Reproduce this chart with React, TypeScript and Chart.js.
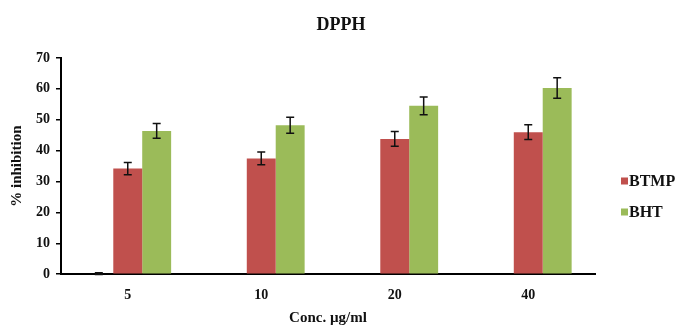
import React, { useEffect, useRef } from "react";
import { Chart, registerables } from "chart.js";

Chart.register(...registerables);

const chartTitle = "DPPH";
const categories = ["5", "10", "20", "40"];
const seriesNames = ["BTMP", "BHT"];
const btmpValues = [34.2, 37.5, 43.8, 46.0];
const btmpErrors = [2.0, 2.1, 2.4, 2.4];
const bhtValues = [46.4, 48.2, 54.5, 60.3];
const bhtErrors = [2.4, 2.6, 2.9, 3.3];
const blankValues = [0.2, 0, 0, 0];
const blankErrors = [0.3, 0, 0, 0];
const yTicks = [0, 10, 20, 30, 40, 50, 60, 70];

const RED = "#C0504D";
const GREEN = "#9BBB59";
const FONT = "'Liberation Serif', 'Times New Roman', serif";

const errorBarPlugin = {
  id: "errorBars",
  afterDatasetsDraw(chart: any) {
    const ctx = chart.ctx;
    const y = chart.scales.y;
    chart.data.datasets.forEach((ds: any, i: number) => {
      const errs = ds.errors as number[] | undefined;
      if (!errs) return;
      const meta = chart.getDatasetMeta(i);
      meta.data.forEach((el: any, j: number) => {
        const e = errs[j];
        if (!e) return;
        const v = ds.data[j] as number;
        const top = y.getPixelForValue(v + e);
        const bot = y.getPixelForValue(v - e);
        ctx.save();
        ctx.strokeStyle = "#111";
        ctx.lineWidth = 1.5;
        ctx.beginPath();
        ctx.moveTo(el.x, top);
        ctx.lineTo(el.x, bot);
        ctx.moveTo(el.x - 4, top);
        ctx.lineTo(el.x + 4, top);
        ctx.moveTo(el.x - 4, bot);
        ctx.lineTo(el.x + 4, bot);
        ctx.stroke();
        ctx.restore();
      });
    });
  },
};

const legendPlugin = {
  id: "customLegendTitle",
  afterDraw(chart: any) {
    const ctx = chart.ctx;
    ctx.save();
    ctx.fillStyle = "#111";
    ctx.font = `bold 18px ${FONT}`;
    ctx.textAlign = "center";
    ctx.textBaseline = "middle";
    ctx.fillText(chartTitle, 341, 25);

    const items = [
      { label: seriesNames[0], color: RED, y: 181 },
      { label: seriesNames[1], color: GREEN, y: 212 },
    ];
    ctx.font = `bold 16px ${FONT}`;
    ctx.textBaseline = "middle";
    ctx.textAlign = "left";
    items.forEach((it) => {
      ctx.fillStyle = it.color;
      ctx.fillRect(621, it.y - 3.5, 7, 7);
      ctx.fillStyle = "#111";
      ctx.fillText(it.label, 629, it.y + 1);
    });
    ctx.restore();
  },
};

export default function App() {
  const ref = useRef<HTMLCanvasElement>(null);
  useEffect(() => {
    document.body.style.margin = "0";
    const chart = new Chart(ref.current!, {
      type: "bar",
      data: {
        labels: categories,
        datasets: [
          {
            label: "",
            data: blankValues,
            backgroundColor: "#111",
            errors: blankErrors,
          } as any,
          {
            label: seriesNames[0],
            data: btmpValues,
            backgroundColor: RED,
            errors: btmpErrors,
          } as any,
          {
            label: seriesNames[1],
            data: bhtValues,
            backgroundColor: GREEN,
            errors: bhtErrors,
          } as any,
        ],
      },
      options: {
        animation: false,
        responsive: false,
        layout: { padding: { left: 8, right: 86, top: 58, bottom: 5 } },
        datasets: { bar: { categoryPercentage: 0.65, barPercentage: 1 } },
        plugins: {
          legend: { display: false },
          tooltip: { enabled: false },
          title: { display: false },
        },
        scales: {
          x: {
            grid: { display: false },
            border: { color: "#000", width: 2 },
            ticks: {
              color: "#111",
              font: { family: FONT, size: 14, weight: "bold" },
              padding: 5,
            },
            title: {
              display: true,
              text: "Conc. µg/ml",
              color: "#111",
              font: { family: FONT, size: 15, weight: "bold" },
              padding: { top: 0, bottom: 0 },
            },
          },
          y: {
            min: 0,
            max: 70,
            afterBuildTicks: (axis: any) => {
              axis.ticks = yTicks.map((v) => ({ value: v }));
            },
            grid: {
              display: true,
              drawOnChartArea: false,
              drawTicks: true,
              tickLength: 5,
              color: "#000",
              lineWidth: 1.5,
            },
            border: { color: "#000", width: 2 },
            ticks: {
              color: "#111",
              font: { family: FONT, size: 14, weight: "bold" },
              padding: 6,
            },
            title: {
              display: true,
              text: "% inhibition",
              color: "#111",
              font: { family: FONT, size: 15, weight: "bold" },
              padding: { top: 0, bottom: 4 },
            },
          },
        },
      },
      plugins: [errorBarPlugin, legendPlugin],
    } as any);
    return () => chart.destroy();
  }, []);
  return <canvas ref={ref} width={681} height={332} style={{ display: "block" }} />;
}
